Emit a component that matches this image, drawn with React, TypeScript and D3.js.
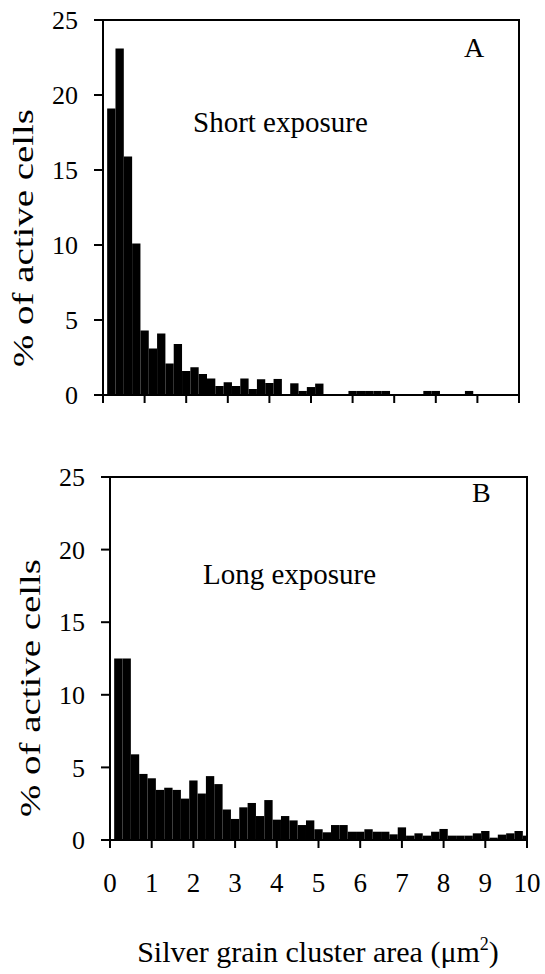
import React from "react";
import * as d3 from "d3";

const binStarts = d3.range(50).map((i) => +(0.1 + 0.2 * i).toFixed(1));

const shortExposure = [
  19.1, 23.1, 15.9, 10.1, 4.3, 3.1, 4.1, 2.1, 3.4, 1.6,
  1.85, 1.4, 1.1, 0.6, 0.85, 0.6, 1.1, 0.4, 1.05, 0.8,
  1.07, 0, 0.78, 0.27, 0.53, 0.76, 0, 0, 0, 0.27,
  0.27, 0.27, 0.27, 0.27, 0, 0, 0, 0, 0.27, 0.27,
  0, 0, 0, 0.27, 0, 0, 0, 0, 0, 0,
];

const longExposure = [
  12.5, 12.5, 5.9, 4.55, 4.25, 3.45, 3.6, 3.45, 2.85, 4.1,
  3.2, 4.4, 3.85, 2.1, 1.45, 2.25, 2.55, 1.65, 2.75, 1.4,
  1.65, 1.35, 1.03, 1.35, 0.74, 0.53, 1.03, 1.03, 0.57, 0.57,
  0.74, 0.57, 0.57, 0.39, 0.87, 0.3, 0.46, 0.3, 0.57, 0.76,
  0.3, 0.3, 0.3, 0.46, 0.62, 0.16, 0.37, 0.46, 0.62, 0.3,
];

const xTicks = d3.range(0, 11);
const yTicks = [0, 5, 10, 15, 20, 25];
const binWidth = 0.2;

const FONT = "'Liberation Serif', 'Times New Roman', serif";

type PanelProps = {
  values: number[];
  x: d3.ScaleLinear<number, number>;
  y: d3.ScaleLinear<number, number>;
  letter: string;
  letterPos: [number, number];
  caption: string;
  captionPos: [number, number];
  showXLabels: boolean;
  yTitlePos: [number, number];
};

function Panel({ values, x, y, letter, letterPos, caption, captionPos, showXLabels, yTitlePos }: PanelProps) {
  const [x0, x1] = x.range();
  const [yb, yt] = y.range();
  return (
    <g>
      {values.map((v, i) => {
        if (v <= 0) return null;
        const s = binStarts[i];
        const e = Math.min(s + binWidth, 10);
        return (
          <rect
            key={i}
            x={x(s)}
            y={y(v)}
            width={x(e) - x(s)}
            height={y(0) - y(v)}
            fill="#000"
          />
        );
      })}
      <rect x={x0} y={yt} width={x1 - x0} height={yb - yt} fill="none" stroke="#000" strokeWidth={2} />
      {yTicks.map((t) => (
        <g key={t}>
          <line x1={x0 - 9} x2={x0} y1={y(t)} y2={y(t)} stroke="#000" strokeWidth={2} />
          <text x={x0 - 25} y={y(t)} dy="0.35em" textAnchor="end" fontSize={26} fontFamily={FONT}>
            {t}
          </text>
        </g>
      ))}
      {xTicks.map((t) => (
        <g key={t}>
          <line x1={x(t)} x2={x(t)} y1={yb} y2={yb + 8} stroke="#000" strokeWidth={2} />
          {showXLabels && (
            <text x={x(t)} y={yb + 52} textAnchor="middle" fontSize={27} fontFamily={FONT}>
              {t}
            </text>
          )}
        </g>
      ))}
      <text
        transform={`translate(${yTitlePos[0]},${yTitlePos[1]}) rotate(-90)`}
        textAnchor="middle"
        fontSize={30}
        fontFamily={FONT}
        textLength={258}
        lengthAdjust="spacingAndGlyphs"
      >
        % of active cells
      </text>
      <text x={letterPos[0]} y={letterPos[1]} fontSize={28} fontFamily={FONT}>
        {letter}
      </text>
      <text x={captionPos[0]} y={captionPos[1]} fontSize={29} fontFamily={FONT}>
        {caption}
      </text>
    </g>
  );
}

export default function App() {
  const xA = d3.scaleLinear().domain([0, 10]).range([103, 519]);
  const yA = d3.scaleLinear().domain([0, 25]).range([395, 20]);
  const xB = d3.scaleLinear().domain([0, 10]).range([110, 527]);
  const yB = d3.scaleLinear().domain([0, 25]).range([840, 477]);
  return (
    <svg
      width={545}
      height={974}
      style={{ position: "absolute", left: 0, top: 0, background: "#fff" }}
    >
      <rect width={545} height={974} fill="#fff" />
      <Panel
        values={shortExposure}
        x={xA}
        y={yA}
        letter="A"
        letterPos={[464, 57]}
        caption="Short exposure"
        captionPos={[193, 132]}
        showXLabels={false}
        yTitlePos={[33, 238]}
      />
      <Panel
        values={longExposure}
        x={xB}
        y={yB}
        letter="B"
        letterPos={[472, 502]}
        caption="Long exposure"
        captionPos={[203, 584]}
        showXLabels={true}
        yTitlePos={[40, 688]}
      />
      <text x={318} y={962} textAnchor="middle" fontSize={30} fontFamily={FONT}>
        Silver grain cluster area (μm
        <tspan dy={-12} fontSize={18}>2</tspan>
        <tspan dy={12}>)</tspan>
      </text>
    </svg>
  );
}
